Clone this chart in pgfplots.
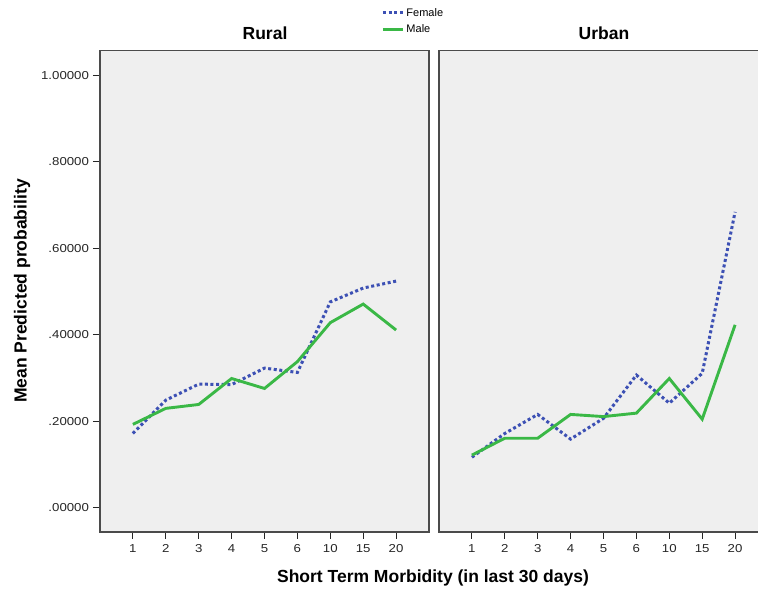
\documentclass[border=0pt]{standalone}
\usepackage{pgfplots}
\pgfplotsset{compat=1.18}
\usepackage{fontspec}
\setmainfont{Liberation Sans}
\definecolor{fem}{RGB}{60,80,180}
\definecolor{mal}{RGB}{58,184,70}
\definecolor{bg}{RGB}{239,239,239}
\definecolor{frame}{RGB}{75,75,75}
\pgfplotstableread{
idx rf rm uf um
0 0.172 0.193 0.117 0.122
1 0.249 0.230 0.172 0.161
2 0.286 0.239 0.216 0.161
3 0.285 0.299 0.159 0.216
4 0.323 0.276 0.207 0.211
5 0.313 0.338 0.307 0.219
6 0.476 0.428 0.242 0.299
7 0.508 0.471 0.311 0.205
8 0.524 0.411 0.684 0.423
}\data
\pgfplotsset{
  panel/.style={
    scale only axis, width=329pt, height=481.2pt,
    xmin=-1, xmax=9, ymin=-0.055, ymax=1.057,
    axis background/.style={fill=bg},
    axis line style={draw=frame, line width=1.7pt},
    xtick={0,...,8}, xticklabels={1,2,3,4,5,6,10,15,20},
    xtick pos=bottom, tick align=outside,
    major tick length=7pt,
    every tick/.style={black!85, line width=1pt},
    tick label style={font=\fontsize{11.5}{13}\selectfont, text=black!85, xscale=1.15},
    xticklabel style={yshift=-2pt},
    legend image code/.code={\draw[#1] (0pt,0pt) -- (20pt,0pt);},
  },
  fstyle/.style={fem, line width=3pt, dash pattern=on 3pt off 2.6pt},
  mstyle/.style={mal, line width=2.9pt},
}
\begin{document}
\begin{tikzpicture}[x=1pt,y=1pt]
\useasboundingbox (0,0) rectangle (758,591);
\clip (0,0) rectangle (758,591);
\begin{axis}[panel, at={(100pt,59.3pt)}, anchor=south west,
  ytick={0,0.2,0.4,0.6,0.8,1.0},
  yticklabels={.00000,.20000,.40000,.60000,.80000,1.00000},
  ytick pos=left,
  legend style={at={(0.855,1.0925)}, anchor=north west, draw=none, fill=none,
    font=\fontsize{11}{12}\selectfont, row sep=3pt, inner sep=0pt,
    /tikz/every even column/.append style={column sep=2pt}},
  legend cell align=left]
\addplot[fstyle] table[x=idx,y=rf]{\data};
\addlegendentry{Female}
\addplot[mstyle] table[x=idx,y=rm]{\data};
\addlegendentry{Male}
\end{axis}
\begin{axis}[panel, at={(439pt,59.3pt)}, anchor=south west, ytick=\empty]
\addplot[fstyle] table[x=idx,y=uf]{\data};
\addplot[mstyle] table[x=idx,y=um]{\data};
\end{axis}
\node[font=\fontsize{17.5}{20}\selectfont\bfseries] at (265,558) {Rural};
\node[font=\fontsize{17.5}{20}\selectfont\bfseries] at (604,558) {Urban};
\node[font=\fontsize{17.5}{20}\selectfont\bfseries] at (433,13) {Short Term Morbidity (in last 30 days)};
\node[font=\fontsize{17.5}{20}\selectfont\bfseries, rotate=90] at (22,300) {Mean Predicted probability};
\end{tikzpicture}
\end{document}
